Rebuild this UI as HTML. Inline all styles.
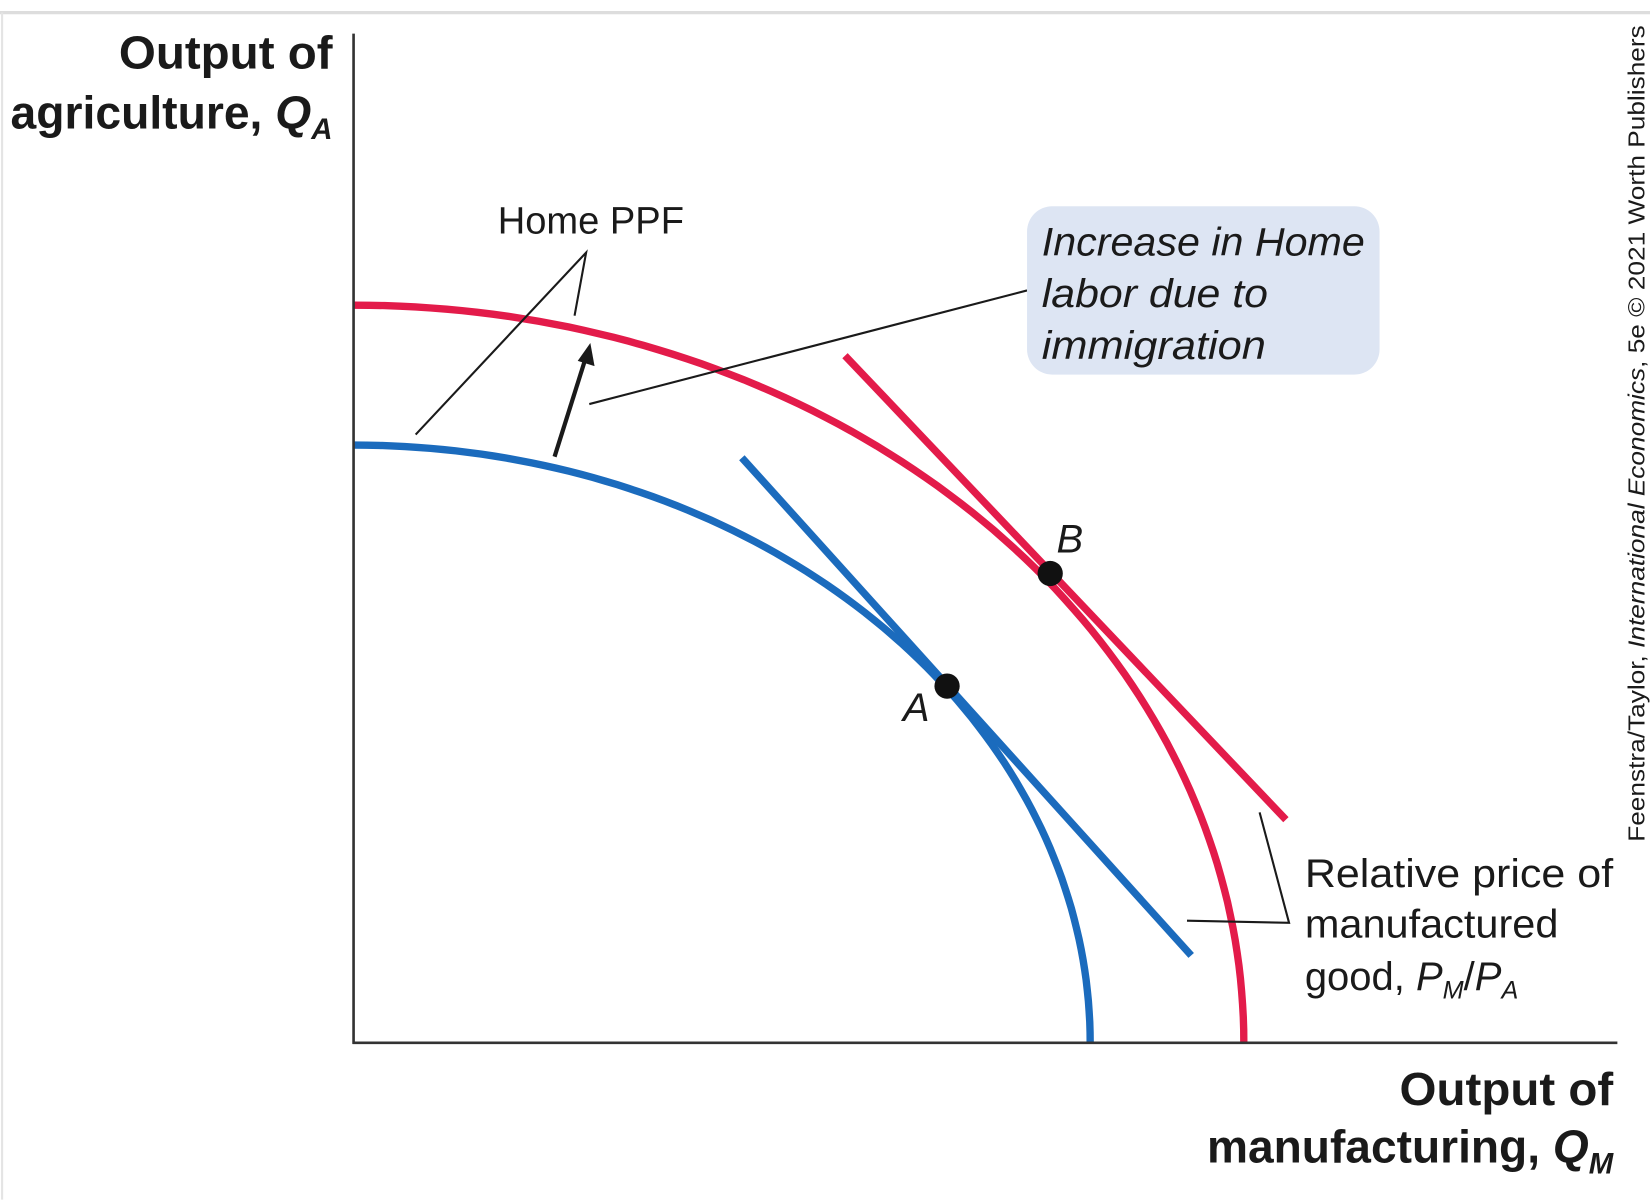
<!DOCTYPE html>
<html><head><meta charset="utf-8"><style>
html,body{margin:0;padding:0;background:#fff;}
svg{display:block;}
text{font-family:"Liberation Sans Narrow","Liberation Sans",sans-serif;fill:#1a1a1a;}
</style></head><body>
<svg id="chart" width="1650" height="1200" viewBox="0 0 1568 1140.4" preserveAspectRatio="none" xmlns="http://www.w3.org/2000/svg">
<line x1="0" y1="12" x2="1568" y2="12" stroke="#ddd" stroke-width="3"/>
<line x1="2" y1="12" x2="2" y2="1140" stroke="#e4e4e4" stroke-width="2"/>
<g id="marks"></g>
<line x1="336" y1="32" x2="336" y2="992" stroke="#333" stroke-width="2.5"/>
<line x1="335" y1="991" x2="1537" y2="991" stroke="#333" stroke-width="2.5"/>

<g font-weight="bold" font-size="44" text-anchor="end">
<text x="316" y="65" textLength="203" lengthAdjust="spacingAndGlyphs">Output of</text>
<text x="316" y="122" textLength="306" lengthAdjust="spacingAndGlyphs">agriculture, <tspan font-style="italic">Q</tspan><tspan font-style="italic" font-size="28" dy="10">A</tspan></text>
</g>
<g font-weight="bold" font-size="44" text-anchor="end">
<text x="1533" y="1050" textLength="203" lengthAdjust="spacingAndGlyphs">Output of</text>
<text x="1533" y="1105" textLength="386" lengthAdjust="spacingAndGlyphs">manufacturing, <tspan font-style="italic">Q</tspan><tspan font-style="italic" font-size="28" dy="10">M</tspan></text>
</g>

<text x="473" y="222" font-size="36" textLength="177" lengthAdjust="spacingAndGlyphs">Home PPF</text>
<polyline points="395,413 557,240 546,300" fill="none" stroke="#1a1a1a" stroke-width="2"/>
<line x1="527" y1="434" x2="556" y2="342" stroke="#1a1a1a" stroke-width="4"/>
<polygon points="561,326 565,348 549,343" fill="#1a1a1a"/>
<line x1="560" y1="384" x2="976" y2="276" stroke="#1a1a1a" stroke-width="2"/>
<rect x="976" y="196" width="335" height="160" rx="24" fill="#dde5f3"/>
<g font-size="38" font-style="italic">
<text x="990" y="243" textLength="307" lengthAdjust="spacingAndGlyphs">Increase in Home</text>
<text x="990" y="292" textLength="215" lengthAdjust="spacingAndGlyphs">labor due to</text>
<text x="990" y="341" textLength="213" lengthAdjust="spacingAndGlyphs">immigration</text>
</g>
<polyline points="1197,772 1225,877 1128,875" fill="none" stroke="#1a1a1a" stroke-width="2"/>
<g font-size="38">
<text x="1240" y="843" textLength="293" lengthAdjust="spacingAndGlyphs">Relative price of</text>
<text x="1240" y="891" textLength="241" lengthAdjust="spacingAndGlyphs">manufactured</text>
<text x="1240" y="941">good, <tspan font-style="italic">P</tspan><tspan font-style="italic" font-size="24" dy="8">M</tspan><tspan dy="-8">/</tspan><tspan font-style="italic">P</tspan><tspan font-style="italic" font-size="24" dy="8">A</tspan></text>
</g>
<text transform="translate(1563,800) rotate(-90)" font-family="Liberation Sans, sans-serif" font-size="22" textLength="776" lengthAdjust="spacingAndGlyphs" style="font-family:'Liberation Sans',sans-serif">Feenstra/Taylor, <tspan font-style="italic">International Economics</tspan>, 5e © 2021 Worth Publishers</text>
<g id="labels"></g>
</svg>
<script>
// data units: x 0..120, y 0..96 (origin at axes corner)
const ppfNames = ['home-ppf-before', 'home-ppf-after'];
const ppfXIntercepts = [70, 84.6];
const ppfYIntercepts = [56.8, 70.1];
const ppfColors = ['#1b6bbd', '#e31b4a'];
const priceLineX = [[36.9, 79.6], [46.7, 88.6]];
const priceLineY = [[55.6, 8.3], [65.3, 21.2]];
const pointLabels = ['A', 'B'];
const pointX = [56.4, 66.2];
const pointY = [33.9, 44.6];

const X0 = 336, Y0 = 991, PX = 10;
const sx = v => X0 + v * PX;
const sy = v => Y0 - v * PX;
const NS = 'http://www.w3.org/2000/svg';
const marks = document.getElementById('marks');
const labels = document.getElementById('labels');

for (let i = 0; i < ppfNames.length; i++) {
  const a = ppfXIntercepts[i], b = ppfYIntercepts[i];
  let d = '';
  for (let k = 0; k <= 90; k++) {
    const t = k / 90 * Math.PI / 2;
    const x = a * Math.sin(t), y = b * Math.cos(t);
    d += (k ? 'L' : 'M') + sx(x).toFixed(1) + ',' + sy(y).toFixed(1);
  }
  const p = document.createElementNS(NS, 'path');
  p.setAttribute('d', d);
  p.setAttribute('fill', 'none');
  p.setAttribute('stroke', ppfColors[i]);
  p.setAttribute('stroke-width', '7');
  
  
  marks.appendChild(p);

  const l = document.createElementNS(NS, 'line');
  l.setAttribute('x1', sx(priceLineX[i][0]));
  l.setAttribute('y1', sy(priceLineY[i][0]));
  l.setAttribute('x2', sx(priceLineX[i][1]));
  l.setAttribute('y2', sy(priceLineY[i][1]));
  l.setAttribute('stroke', ppfColors[i]);
  l.setAttribute('stroke-width', '7');
  
  
  marks.appendChild(l);
}
for (let i = 0; i < pointLabels.length; i++) {
  const c = document.createElementNS(NS, 'circle');
  c.setAttribute('cx', sx(pointX[i]));
  c.setAttribute('cy', sy(pointY[i]));
  c.setAttribute('r', '12');
  c.setAttribute('fill', '#111');
  
  
  labels.appendChild(c);
  const t = document.createElementNS(NS, 'text');
  const dx = i === 0 ? -42 : 6, dy = i === 0 ? 33 : -20;
  t.setAttribute('x', sx(pointX[i]) + dx);
  t.setAttribute('y', sy(pointY[i]) + dy);
  t.setAttribute('font-size', '38');
  t.setAttribute('font-style', 'italic');
  t.textContent = pointLabels[i];
  
  
  labels.appendChild(t);
}
</script>
</body></html>
